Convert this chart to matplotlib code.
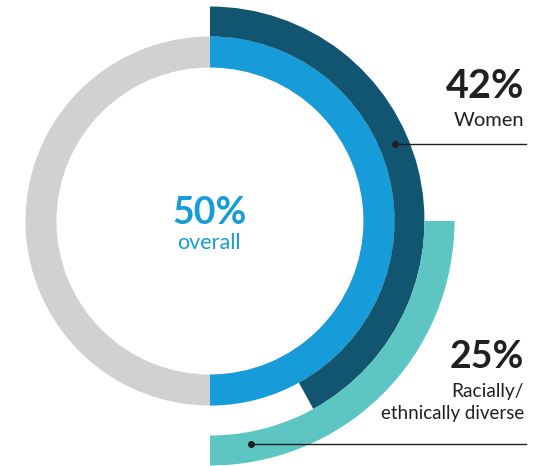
import matplotlib
matplotlib.use("Agg")
import matplotlib.pyplot as plt
from matplotlib.patches import Wedge

# ---------------------------------------------------------------------------
# Data
# ---------------------------------------------------------------------------
overall_pct = 50
women_pct = 42
diverse_pct = 25
diverse_start_pct = 25  # teal arc begins at the 3 o'clock position

GRAY = "#d0d2d0"
BLUE = "#169cd8"
NAVY = "#115571"
TEAL = "#5ec6c2"
DARK = "#231f20"

plt.rcParams["font.family"] = ["Lato", "DejaVu Sans"]

W, H = 546, 466
fig = plt.figure(figsize=(W / 100, H / 100), dpi=100)
ax = fig.add_axes([0, 0, 1, 1])
ax.set_xlim(0, W)
ax.set_ylim(0, H)
ax.axis("off")

cx, cy = 210, H - 221


def arc(start_pct, end_pct, r_out, width, color):
    # clockwise from 12 o'clock
    t1 = 90 - 360 * end_pct / 100
    t2 = 90 - 360 * start_pct / 100
    ax.add_patch(Wedge((cx, cy), r_out, t1, t2, width=width, color=color, lw=0))


arc(0, 100, 184.5, 31, GRAY)
arc(0, overall_pct, 184.5, 31, BLUE)
arc(0, women_pct, 214.5, 30, NAVY)
arc(diverse_start_pct, diverse_start_pct + diverse_pct, 244.5, 30, TEAL)

# centre label
ax.text(cx, H - 213, f"{overall_pct}%", color=BLUE, fontsize=27, fontweight="bold",
        ha="center", va="center")
ax.text(cx - 1, H - 243, "overall", color=BLUE, fontsize=15.5, ha="center", va="center")

# Women callout
ax.text(524, H - 86, f"{women_pct}%", color=DARK, fontsize=28.5, fontweight="bold",
        ha="right", va="center")
ax.text(524, H - 121, "Women", color=DARK, fontsize=14.5, ha="right", va="center")
ax.plot([395, 526], [H - 144, H - 144], color=DARK, lw=1)
ax.plot([395], [H - 144], "o", color=DARK, ms=4)

# Diverse callout
ax.text(524, H - 357, f"{diverse_pct}%", color=DARK, fontsize=27, fontweight="bold",
        ha="right", va="center")
ax.text(524, H - 391, "Racially/", color=DARK, fontsize=13.8, ha="right", va="center")
ax.text(524, H - 414, "ethnically diverse", color=DARK, fontsize=13.5, ha="right", va="center")
ax.plot([251, 526], [H - 444, H - 444], color=DARK, lw=1)
ax.plot([251], [H - 444], "o", color=DARK, ms=4)

fig.savefig("out.png", dpi=100)
